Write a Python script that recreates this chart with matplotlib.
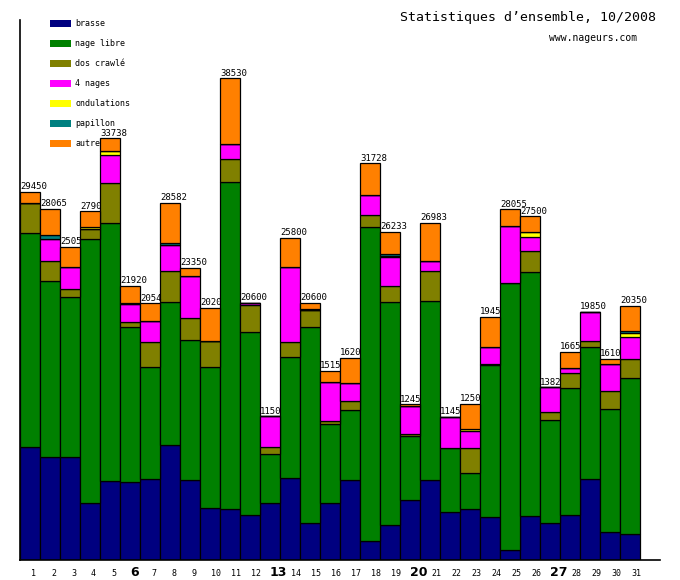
import matplotlib
matplotlib.use("Agg")
import matplotlib.pyplot as plt
import numpy as np

days = [str(d) for d in range(1, 32)]
bold_days = ["6", "13", "20", "27"]

brasse      = [9060, 8220, 8220, 4540, 6300, 6220, 6460, 9180, 6380, 4140, 4060, 3580, 4540, 6540, 2940, 4540,
               6380, 1500, 2780, 4780, 6380, 3820, 4060, 3420, 780, 3500, 2940, 3580, 6460, 2220, 2060]
nage_libre  = [17070, 14080, 12850, 21120, 20640, 12400, 8960, 11440, 11200, 11280, 26160, 14640, 3920, 9680, 15680, 6320,
               5600, 25120, 17840, 5120, 14320, 5120, 2880, 12160, 21360, 19520, 8240, 10160, 10560, 9840, 12480]
dos_crawle  = [2400, 1650, 590, 850, 3200, 400, 2000, 2480, 1760, 2080, 1840, 2160, 560, 1200, 1360, 240,
               720, 960, 1280, 160, 2400, 0, 2000, 80, 0, 1680, 640, 1200, 480, 1440, 1520]
quatre_nages= [0, 1760, 1760, 0, 2240, 1440, 1680, 2080, 3360, 0, 1200, 220, 2480, 6000, 0, 3120,
               1440, 1600, 2320, 2240, 800, 2510, 1360, 1360, 4560, 1120, 2000, 400, 2350, 2160, 1760]
ondulations = [0, 0, 0, 160, 320, 0, 0, 0, 0, 0, 0, 0, 0, 0, 0, 0,
               0, 0, 130, 0, 0, 0, 160, 0, 0, 400, 0, 0, 0, 0, 320]
papillon    = [0, 270, 0, 0, 0, 80, 0, 160, 0, 0, 0, 0, 0, 0, 80, 0,
               0, 0, 110, 0, 0, 0, 0, 0, 0, 0, 0, 0, 0, 0, 160]
autre       = [920, 2085, 1630, 1230, 1038, 1380, 1440, 3242, 650, 2700, 5270, 0, 0, 2380, 540, 930,
               2060, 2548, 1773, 150, 3083, 0, 2040, 2430, 1355, 1280, 0, 1310, 0, 440, 2050]
total_labels = ["29450", "28065", "2505", "2790", "33738", "21920", "2054", "28582", "23350", "2020", "38530",
                "20600", "1150", "25800", "20600", "1515", "1620", "31728", "26233", "1245", "26983", "1145",
                "1250", "1945", "28055", "27500", "1382", "1665", "19850", "1610", "20350"]

series_names = ["brasse", "nage libre", "dos crawlé", "4 nages", "ondulations", "papillon", "autre"]
series = [brasse, nage_libre, dos_crawle, quatre_nages, ondulations, papillon, autre]
colors = ["#000080", "#008000", "#808000", "#ff00ff", "#ffff00", "#008080", "#ff8000"]

W, H = 680, 580
fig = plt.figure(figsize=(W / 100, H / 100), dpi=100)
ax = fig.add_axes([20 / W, 20 / H, 640 / W, 540 / H])

x = np.arange(len(days))
bottom = np.zeros(len(days))
for vals, col in zip(series, colors):
    v = np.array(vals, dtype=float)
    ax.bar(x, v, width=1.0, bottom=bottom, align="edge", color=col,
           edgecolor="black", linewidth=0.9)
    bottom += v

ax.set_xlim(0, 32)
ax.set_ylim(0, 43200)
for s in ["top", "right"]:
    ax.spines[s].set_visible(False)
ax.spines["left"].set_linewidth(1.2)
ax.spines["bottom"].set_linewidth(1.2)
ax.set_xticks([])
ax.set_yticks([])

mono = "DejaVu Sans Mono"
for i, (tot, lab) in enumerate(zip(bottom, total_labels)):
    ax.annotate(lab, (i, tot), xytext=(0, 0.5), textcoords="offset points",
                ha="left", va="bottom", fontsize=6.5, family=mono)

xform = ax.get_xaxis_transform()
for i, d in enumerate(days):
    if d in bold_days:
        ax.text(i + 0.5, -13 / 540, d, transform=xform, ha="left", va="center",
                fontsize=9, fontweight="bold", family="DejaVu Sans")
    else:
        ax.text(i + 0.55, -13 / 540, d, transform=xform, ha="left", va="center",
                fontsize=6, family=mono)

def px(xp, yp):
    return xp / W, 1 - yp / H

# legend
for k, (name, col) in enumerate(zip(series_names, colors)):
    yc = 23.5 + 20 * k
    rx, ry = px(50, yc + 3.5)
    fig.patches.append(plt.Rectangle((rx, ry), 21 / W, 7 / H, transform=fig.transFigure,
                                     facecolor=col, edgecolor="none"))
    tx, ty = px(75, yc)
    fig.text(tx, ty, name, ha="left", va="center", fontsize=6, family=mono)

tx, ty = px(400, 17)
fig.text(tx, ty, "Statistiques d\u2019ensemble, 10/2008", ha="left", va="center",
         fontsize=9.5, family=mono)
tx, ty = px(549, 38)
fig.text(tx, ty, "www.nageurs.com", ha="left", va="center", fontsize=7, family=mono)

fig.savefig("out.png", dpi=100, facecolor="white")
